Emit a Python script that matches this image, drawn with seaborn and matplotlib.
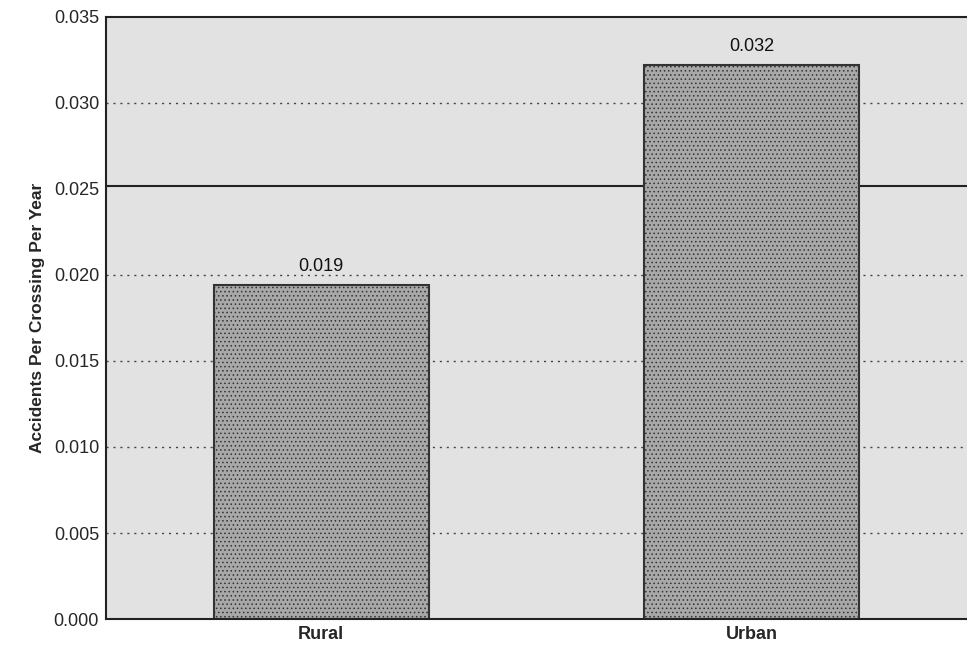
import matplotlib
matplotlib.use("Agg")
import matplotlib.pyplot as plt
import seaborn as sns
import pandas as pd

# data
areas = ["Rural", "Urban"]
rates = [0.0194, 0.0322]
labels = ["0.019", "0.032"]
overall_avg = 0.0252

df = pd.DataFrame({"area": areas, "rate": rates})

sns.set_style("white")
plt.rcParams["font.family"] = ["Liberation Sans", "DejaVu Sans"]
plt.rcParams["hatch.color"] = "#555555"
plt.rcParams["hatch.linewidth"] = 0.6

fig = plt.figure(figsize=(9.67, 6.56), dpi=100)
ax = fig.add_axes([0.1096, 0.0564, 0.8904, 0.9177])
ax.set_facecolor("#e2e2e2")

sns.barplot(data=df, x="area", y="rate", ax=ax, color="#a8a8a8",
            width=0.5, edgecolor="#333333", linewidth=1.5, saturation=1)
for p in ax.patches:
    p.set_hatch("....")

# dotted grid
for yv in [0.005, 0.010, 0.015, 0.020, 0.030]:
    ax.axhline(yv, color="#444444", linestyle=(0, (1.5, 3.5)), linewidth=1.0, zorder=0.5)
ax.axhline(overall_avg, color="#222222", linewidth=1.5, zorder=0.6)

for i, (v, t) in enumerate(zip(rates, labels)):
    ax.text(i, v + 0.0006, t, ha="center", va="bottom", fontsize=13, color="#111111")

ax.set_xlim(-0.5, 1.5)
ax.set_ylim(0, 0.035)
ax.set_yticks([0, 0.005, 0.010, 0.015, 0.020, 0.025, 0.030, 0.035])
ax.set_yticklabels([f"{v:.3f}" for v in ax.get_yticks()], fontsize=13)
ax.set_xticks([0, 1])
ax.set_xticklabels(areas, fontsize=13, fontweight="bold")
ax.tick_params(axis="both", length=0, pad=5)
ax.set_xlabel("")
ax.set_ylabel("Accidents Per Crossing Per Year", fontsize=12.5, fontweight="bold", labelpad=6)
for side in ["left", "top", "bottom"]:
    ax.spines[side].set_color("#222222")
    ax.spines[side].set_linewidth(1.5)
ax.spines["right"].set_visible(False)

fig.savefig("out.png", dpi=100)
